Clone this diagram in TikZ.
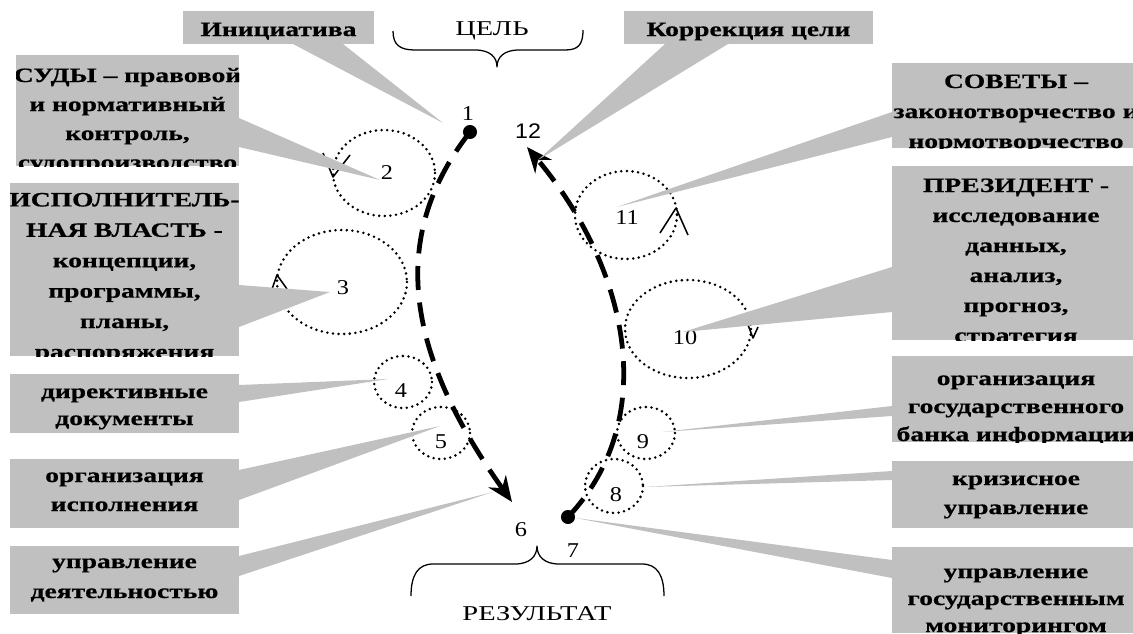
\documentclass[tikz,border=0pt]{standalone}
\usepackage{fontspec}
\setmainfont{Liberation Serif}
\newfontfamily\boxfont[FakeStretch=1.35, BoldFeatures={FakeBold=0.6}]{Liberation Serif}
\newfontfamily\digitfont[FakeStretch=1.15]{Liberation Serif}
\newfontfamily\sansdigitfont[FakeStretch=1.1]{Liberation Sans}
\usetikzlibrary{arrows.meta}
\definecolor{calloutgray}{HTML}{C0C0C0}

\tikzset{
  callout/.style={fill=calloutgray},
  boxtext/.style={anchor=base, inner sep=0pt,
    font=\boxfont\bfseries\fontsize{14.5}{17}\selectfont},
  captext/.style={anchor=base, inner sep=0pt,
    font=\boxfont\fontsize{15}{18}\selectfont},
  num/.style={inner sep=0pt, font=\digitfont\fontsize{15}{17}\selectfont},
  dotline/.style={line width=2pt, dash pattern=on 0pt off 4pt, line cap=round},
  tick/.style={line width=1.1pt},
  brace/.style={line width=0.9pt},
  flow/.style={line width=3.4pt, dash pattern=on 17pt off 9pt,
    -{Stealth[length=18pt,width=15pt]}},
  dot/.style={circle, fill, inner sep=0pt, minimum size=10pt},
}

\begin{document}
\begin{tikzpicture}[x=0.025cm, y=-0.025cm, line join=round]

\useasboundingbox (0,0) rectangle (1133,633);
\clip (0,0) rectangle (1133,633);

% Goal and result braces
\node[captext] (goal) at (492,35) {ЦЕЛЬ};
\draw[brace] (393,31) .. controls (393,45) and (400,50) .. (415,50) -- (475,50)
  .. controls (490,50) and (497,57) .. (497,67)
  .. controls (497,57) and (504,50) .. (519,50) -- (565,50)
  .. controls (578,50) and (583,45) .. (583,30);
\node[captext] (result) at (537,620) {РЕЗУЛЬТАТ};
\draw[brace] (411,596) .. controls (411,575) and (418,564) .. (433,564) -- (515,564)
  .. controls (530,564) and (537,556) .. (537,546)
  .. controls (537,556) and (544,564) .. (559,564) -- (642,564)
  .. controls (657,564) and (664,575) .. (664,596);

% Cycles of the branches
\draw[dotline] (384,173) ellipse [x radius=51, y radius=43];
\draw[dotline] (342,282) ellipse [x radius=65, y radius=52];
\draw[dotline] (403,382) ellipse [x radius=29, y radius=26];
\draw[dotline] (441,433) ellipse [x radius=29, y radius=26];
\draw[dotline] (614,486) ellipse [x radius=29, y radius=27];
\draw[dotline] (646,433) ellipse [x radius=29, y radius=26];
\draw[dotline] (688,329) ellipse [x radius=63, y radius=49];
\draw[dotline] (626,215) ellipse [x radius=51, y radius=44];
% direction marks on the cycles
\draw[tick] (323,153) -- (333,177) -- (350,155);
\draw[tick] (272,289) -- (277,275) -- (287,289);
\draw[tick] (745,317) -- (753,338) -- (758,327);
\draw[tick] (660,233) -- (676,208) -- (688,235);

% Stage numbers
\node[num] (n1) at (468,114) {1};
\node[num] (n2) at (387,173) {2};
\node[num] (n3) at (343,288) {3};
\node[num] (n4) at (401,391) {4};
\node[num] (n5) at (441,442) {5};
\node[num] (n6) at (521,530) {6};
\node[num] (n7) at (573,551) {7};
\node[num] (n8) at (616,495) {8};
\node[num] (n9) at (643,442) {9};
\node[num] (n10) at (685,338) {10};
\node[num] (n11) at (627,218) {11};
\node[num, font=\sansdigitfont\fontsize{15}{17}\selectfont] (n12) at (528,131) {12};

% Main flows
\node[dot] (start) at (470,132) {};
\coordinate (finish) at (512,502);
\draw[flow] (start.center) .. controls (392,232) and (400,345) .. (finish);
\node[dot] (back) at (568,517) {};
\coordinate (correct) at (527,147);
\draw[flow] (back.center) .. controls (660,420) and (630,270) .. (correct);

% Initiative
\coordinate (tip1) at (443,123);
\fill[callout] (tip1) -- (293,44) -- (343,44) -- cycle;
\fill[callout] (183,11) rectangle (374,44);
\node[boxtext] (init) at (278.5,36) {Инициатива};

% Courts
\coordinate (tip2) at (380,180);
\fill[callout] (tip2) -- (239,118) -- (239,147) -- cycle;
\begin{scope}
  \clip (16,55) rectangle (239,166);
  \fill[callout] (16,55) rectangle (239,166);
  \foreach \txt [count=\i] in {СУДЫ – правовой, и нормативный, {контроль,}, судопроизводство}
    \node[boxtext] (courts-\i) at (127.5,{53+29*\i}) {\txt};
\end{scope}

% Executive power
\coordinate (tip3) at (330,292);
\fill[callout] (tip3) -- (239,285) -- (239,327) -- cycle;
\begin{scope}
  \clip (10,183) rectangle (239,356);
  \fill[callout] (10,183) rectangle (239,356);
  \foreach \txt [count=\i] in {ИСПОЛНИТЕЛЬ-, НАЯ ВЛАСТЬ -, {концепции,}, {программы,}, {планы,}, распоряжения}
    \node[boxtext] (exec-\i) at (124.5,{176+30.4*\i}) {\txt};
\end{scope}

% Directives
\coordinate (tip4) at (388,379);
\fill[callout] (tip4) -- (239,385) -- (239,402) -- cycle;
\fill[callout] (10,374) rectangle (239,433);
\node[boxtext] (dir-1) at (124.5,398) {директивные};
\node[boxtext] (dir-2) at (124.5,425) {документы};

% Execution
\coordinate (tip5) at (440,426);
\fill[callout] (tip5) -- (239,470) -- (239,500) -- cycle;
\fill[callout] (10,459) rectangle (239,528);
\node[boxtext] (exe-1) at (124.5,482) {организация};
\node[boxtext] (exe-2) at (124.5,511) {исполнения};

% Activity management
\coordinate (tip6) at (493,492);
\fill[callout] (tip6) -- (239,556) -- (239,576) -- cycle;
\fill[callout] (10,546) rectangle (239,614);
\node[boxtext] (act-1) at (124.5,568) {управление};
\node[boxtext] (act-2) at (124.5,598) {деятельностью};

% Goal correction
\coordinate (tip12) at (538,160);
\fill[callout] (tip12) -- (665,44) -- (728,44) -- cycle;
\fill[callout] (624,11) rectangle (873,44);
\node[boxtext] (corr) at (748.5,36) {Коррекция цели};

% Councils
\coordinate (tip11) at (617,207);
\fill[callout] (tip11) -- (892,112) -- (892,137) -- cycle;
\begin{scope}
  \clip (892,63) rectangle (1140,148);
  \fill[callout] (892,63) rectangle (1140,148);
  \foreach \txt [count=\i] in {СОВЕТЫ –, законотворчество и, нормотворчество}
    \node[boxtext] (council-\i) at (1016,{58+30*\i}) {\txt};
\end{scope}

% President
\coordinate (tip10) at (683,332);
\fill[callout] (tip10) -- (892,267) -- (892,312) -- cycle;
\begin{scope}
  \clip (892,166) rectangle (1140,340);
  \fill[callout] (892,166) rectangle (1140,340);
  \foreach \txt [count=\i] in {ПРЕЗИДЕНТ -, исследование, {данных,}, {анализ,}, {прогноз,}, стратегия}
    \node[boxtext] (pres-\i) at (1016,{162+30*\i}) {\txt};
\end{scope}

% Information bank
\coordinate (tip9) at (662,432);
\fill[callout] (tip9) -- (892,406) -- (892,416) -- cycle;
\begin{scope}
  \clip (892,356) rectangle (1140,442);
  \fill[callout] (892,356) rectangle (1140,442);
  \foreach \txt [count=\i] in {организация, государственного, банка информации}
    \node[boxtext] (bank-\i) at (1016,{357+28*\i}) {\txt};
\end{scope}

% Crisis management
\coordinate (tip8) at (645,487);
\fill[callout] (tip8) -- (892,471) -- (892,480) -- cycle;
\fill[callout] (892,461) rectangle (1140,528);
\node[boxtext] (crisis-1) at (1016,485) {кризисное};
\node[boxtext] (crisis-2) at (1016,514) {управление};

% Monitoring
\fill[callout] (back) -- (892,560) -- (892,578) -- cycle;
\begin{scope}
  \clip (892,547) rectangle (1140,633);
  \fill[callout] (892,547) rectangle (1140,633);
  \foreach \txt [count=\i] in {управление, государственным, мониторингом}
    \node[boxtext] (mon-\i) at (1016,{551+27*\i}) {\txt};
\end{scope}

\end{tikzpicture}
\end{document}
